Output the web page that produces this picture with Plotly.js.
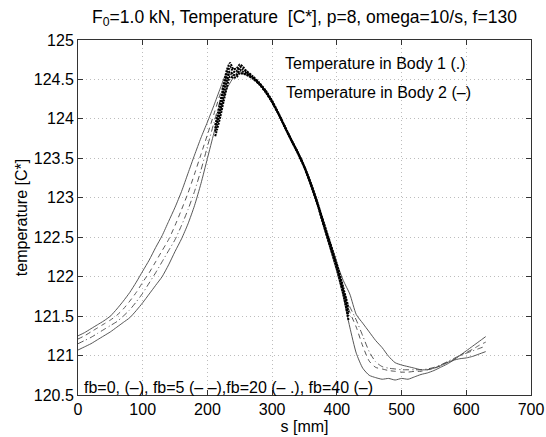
<!DOCTYPE html>
<html>
<head>
<meta charset="utf-8">
<script src="https://cdn.plot.ly/plotly-3.0.1.min.js"></script>
<style>html,body{margin:0;padding:0;background:#fff;}#chart{width:546px;height:437px;}</style>
</head>
<body>
<div id="chart"></div>
<script>
// s positions [mm] for Body 2 curves
const s2 = [0,10,20,30,40,50,60,70,80,90,100,110,120,130,140,150,160,170,180,190,200,210,220,230,240,250,260,270,280,290,300,310,320,330,340,350,360,370,380,390,400,410,420,430,440,450,460,470,480,490,500,510,520,530,540,550,560,570,580,590,600,610,620,630];

// Body 2 temperatures, fb = 0 (solid)
const body2_fb0 = [121.25,121.29,121.34,121.39,121.44,121.50,121.59,121.69,121.80,121.93,122.07,122.21,122.37,122.52,122.70,122.88,123.08,123.31,123.54,123.76,123.96,124.17,124.39,124.58,124.55,124.60,124.56,124.51,124.44,124.34,124.21,124.05,123.88,123.72,123.56,123.38,123.15,122.90,122.62,122.34,122.06,121.74,121.36,121.03,120.84,120.75,120.72,120.70,120.71,120.69,120.71,120.70,120.73,120.76,120.78,120.81,120.85,120.89,120.94,121.00,121.06,121.12,121.18,121.24];
// fb = 5 (dashed)
const body2_fb5 = [121.21,121.25,121.30,121.35,121.40,121.45,121.51,121.59,121.69,121.80,121.93,122.05,122.19,122.33,122.47,122.65,122.85,123.06,123.30,123.55,123.80,124.06,124.32,124.54,124.58,124.63,124.58,124.52,124.45,124.35,124.22,124.06,123.89,123.73,123.57,123.39,123.17,122.92,122.64,122.37,122.09,121.80,121.55,121.36,121.12,120.93,120.85,120.83,120.81,120.80,120.79,120.79,120.80,120.80,120.82,120.84,120.87,120.91,120.95,121.00,121.04,121.08,121.13,121.17];
// fb = 20 (dash-dot)
const body2_fb20 = [121.15,121.19,121.23,121.28,121.33,121.38,121.43,121.50,121.58,121.68,121.79,121.92,122.05,122.19,122.33,122.47,122.65,122.85,123.08,123.35,123.65,123.95,124.24,124.49,124.58,124.64,124.59,124.53,124.46,124.35,124.22,124.06,123.89,123.73,123.57,123.39,123.17,122.93,122.66,122.39,122.12,121.83,121.62,121.45,121.25,121.05,120.92,120.86,120.84,120.83,120.82,120.82,120.82,120.82,120.83,120.85,120.88,120.92,120.96,121.00,121.03,121.06,121.09,121.12];
// fb = 40 (solid)
const body2_fb40 = [121.07,121.11,121.15,121.20,121.25,121.30,121.36,121.42,121.48,121.57,121.67,121.78,121.89,122.00,122.15,122.32,122.48,122.67,122.90,123.18,123.50,123.82,124.12,124.38,124.52,124.58,124.57,124.53,124.46,124.36,124.23,124.07,123.90,123.74,123.58,123.41,123.19,122.95,122.69,122.43,122.17,121.95,121.78,121.52,121.41,121.30,121.19,121.10,120.99,120.91,120.88,120.86,120.84,120.82,120.82,120.84,120.87,120.91,120.94,120.96,120.97,120.99,121.02,121.05];

// s positions [mm] for Body 1 (dotted)
const s1 = [212,215,220,225,230,235,240,245,250,255,260,270,280,290,300,310,320,330,340,350,360,370,380,390,400,410,418];
const body1_fb0  = [123.92,124.03,124.22,124.43,124.62,124.71,124.63,124.64,124.69,124.66,124.61,124.54,124.46,124.36,124.23,124.07,123.90,123.73,123.57,123.39,123.17,122.92,122.64,122.37,122.10,121.78,121.45];
const body1_fb5  = [123.88,123.98,124.16,124.37,124.56,124.66,124.60,124.60,124.66,124.63,124.60,124.53,124.45,124.35,124.22,124.06,123.89,123.72,123.56,123.38,123.16,122.92,122.65,122.39,122.12,121.80,121.50];
const body1_fb20 = [123.84,123.93,124.10,124.30,124.48,124.60,124.56,124.56,124.62,124.60,124.58,124.52,124.44,124.34,124.21,124.06,123.89,123.72,123.56,123.38,123.17,122.93,122.66,122.40,122.14,121.83,121.55];
const body1_fb40 = [123.78,123.87,124.03,124.22,124.40,124.54,124.52,124.53,124.58,124.57,124.56,124.51,124.44,124.34,124.21,124.06,123.89,123.73,123.57,123.39,123.18,122.94,122.68,122.42,122.16,121.86,121.60];

const xTicks = [0,100,200,300,400,500,600,700];
const yTicks = [120.5,121,121.5,122,122.5,123,123.5,124,124.5,125];

const FONT = 'Liberation Sans, Arial, Helvetica, sans-serif';
const lineCol = '#444444';

function b2(y, dash, name){
  return {x: s2, y: y, mode: 'lines', name: name,
          line: {color: lineCol, width: 0.9, dash: dash, shape: 'spline', smoothing: 0.6},
          hoverinfo: 'skip', showlegend: false};
}
function b1(y, name){
  return {x: s1, y: y, mode: 'lines', name: name,
          line: {color: '#000', width: 2, dash: '2px,1px', shape: 'spline', smoothing: 0.6},
          hoverinfo: 'skip', showlegend: false};
}

const data = [
  b2(body2_fb0, 'solid', 'Body 2 fb=0'),
  b2(body2_fb5, '5px,4px', 'Body 2 fb=5'),
  b2(body2_fb20, '6px,3px,1px,3px', 'Body 2 fb=20'),
  b2(body2_fb40, 'solid', 'Body 2 fb=40'),
  b1(body1_fb0, 'Body 1 fb=0'),
  b1(body1_fb5, 'Body 1 fb=5'),
  b1(body1_fb20, 'Body 1 fb=20'),
  b1(body1_fb40, 'Body 1 fb=40')
];

const axisCommon = {
  showline: true, mirror: 'ticks', linecolor: '#333', linewidth: 1,
  ticks: 'inside', ticklen: 5, tickcolor: '#333', tickwidth: 1,
  showgrid: true, gridcolor: '#bdbdbd', griddash: '1px,3px', gridwidth: 1,
  zeroline: false, automargin: false,
  tickfont: {family: FONT, size: 16, color: '#000'}
};

const layout = {
  width: 546, height: 437,
  margin: {l: 78, r: 15, t: 40, b: 42},
  paper_bgcolor: '#fff', plot_bgcolor: '#fff',
  font: {family: FONT, color: '#000'},
  title: {text: 'F<sub>0</sub>=1.0 kN, Temperature\u00a0 [C*], p=8, omega=10/s, f=130',
          font: {family: FONT, size: 17.5, color: '#000'},
          x: 0.5, xanchor: 'center', xref: 'paper', yref: 'container', y: 0.962, yanchor: 'middle'},
  xaxis: Object.assign({}, axisCommon, {
    range: [0, 700], tickvals: xTicks, ticktext: xTicks.map(String),
    title: {text: 's [mm]', font: {family: FONT, size: 16, color: '#000'}, standoff: 2}
  }),
  yaxis: Object.assign({}, axisCommon, {
    range: [120.5, 125], tickvals: yTicks, ticktext: yTicks.map(String),
    title: {text: 'temperature [C*]', font: {family: FONT, size: 16, color: '#000'}, standoff: 2}
  }),
  annotations: [
    {text: 'Temperature in Body 1 (.)', xref: 'paper', yref: 'paper', x: 0.4525, y: 0.935,
     xanchor: 'left', yanchor: 'middle', showarrow: false, font: {family: FONT, size: 16, color: '#000'}},
    {text: 'Temperature in Body 2 (–)', xref: 'paper', yref: 'paper', x: 0.4547, y: 0.8535,
     xanchor: 'left', yanchor: 'middle', showarrow: false, font: {family: FONT, size: 16, color: '#000'}},
    {text: 'fb=0, (–), fb=5 (– –),fb=20 (– .), fb=40 (–)', xref: 'paper', yref: 'paper', x: 0.0088, y: 0.0225,
     xanchor: 'left', yanchor: 'middle', showarrow: false, font: {family: FONT, size: 16, color: '#000'}}
  ]
};

Plotly.newPlot('chart', data, layout, {staticPlot: true, displayModeBar: false});
</script>
</body>
</html>
